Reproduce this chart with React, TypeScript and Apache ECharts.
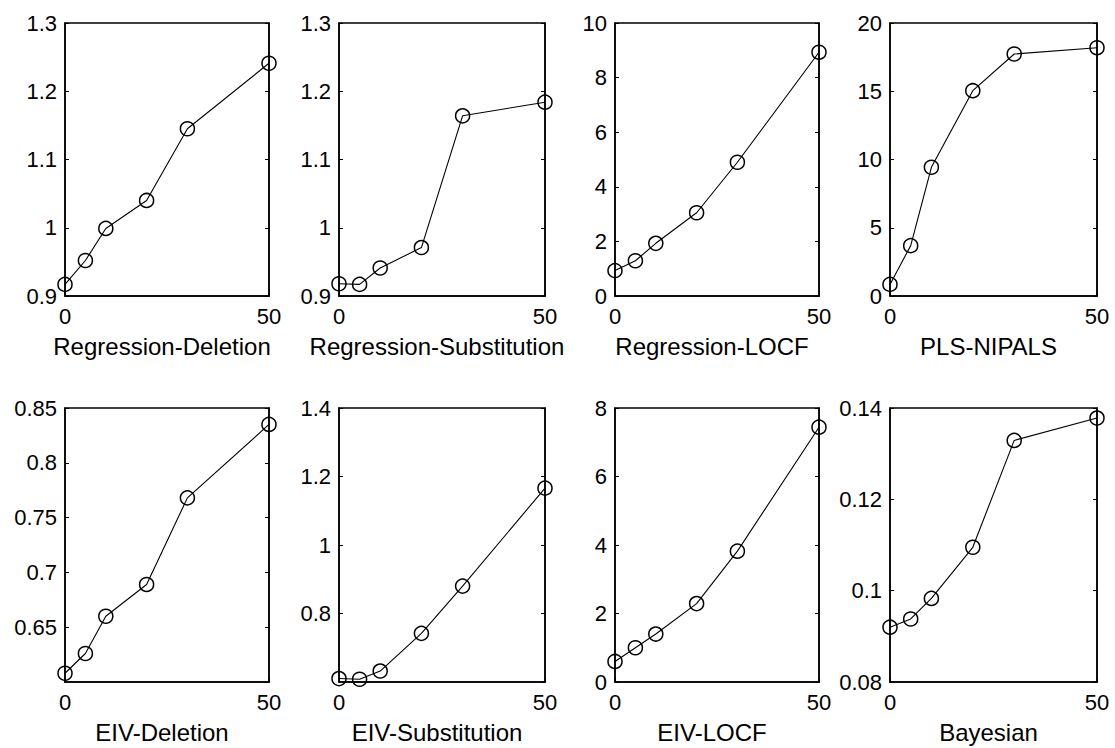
import React, { useEffect, useRef } from "react";
import * as echarts from "echarts";

const xValues = [0, 5, 10, 20, 30, 50];

const titles = [
  "Regression-Deletion",
  "Regression-Substitution",
  "Regression-LOCF",
  "PLS-NIPALS",
  "EIV-Deletion",
  "EIV-Substitution",
  "EIV-LOCF",
  "Bayesian",
];

const regressionDeletion = [0.917, 0.952, 0.999, 1.04, 1.145, 1.241];
const regressionSubstitution = [0.918, 0.917, 0.941, 0.971, 1.164, 1.184];
const regressionLOCF = [0.93, 1.29, 1.93, 3.05, 4.9, 8.93];
const plsNipals = [0.85, 3.69, 9.43, 15.04, 17.73, 18.19];
const eivDeletion = [0.608, 0.626, 0.66, 0.689, 0.768, 0.835];
const eivSubstitution = [0.61, 0.608, 0.632, 0.742, 0.88, 1.166];
const eivLOCF = [0.6, 1.0, 1.4, 2.29, 3.82, 7.44];
const bayesian = [0.092, 0.0938, 0.0983, 0.1095, 0.1329, 0.1378];

const seriesValues = [
  regressionDeletion,
  regressionSubstitution,
  regressionLOCF,
  plsNipals,
  eivDeletion,
  eivSubstitution,
  eivLOCF,
  bayesian,
];

// y axis ranges
const yMins = [0.9, 0.9, 0, 0, 0.6, 0.6, 0, 0.08];
const yMaxs = [1.3, 1.3, 10, 20, 0.85, 1.4, 8, 0.14];
const yIntervals = [0.1, 0.1, 2, 5, 0.05, 0.2, 2, 0.02];
const yShowMin = [true, true, true, true, false, false, true, true];

const xTicks = [0, 50];

const FONT = "'Liberation Sans', Arial, Helvetica, sans-serif";

export default function App() {
  const ref = useRef<HTMLDivElement>(null);

  useEffect(() => {
    if (!ref.current) return;
    const chart = echarts.init(ref.current, undefined, { renderer: "svg" });

    const colLeft = [65, 339, 615, 890];
    const colWidth = [204, 206, 204, 207];
    const rowTop = [23, 408];
    const rowHeight = [273, 274];

    const grids: any[] = [];
    const xAxes: any[] = [];
    const yAxes: any[] = [];
    const series: any[] = [];

    for (let i = 0; i < 8; i++) {
      const r = Math.floor(i / 4);
      const c = i % 4;
      grids.push({
        left: colLeft[c],
        top: rowTop[r],
        width: colWidth[c],
        height: rowHeight[r],
        show: true,
        borderColor: "#000",
        borderWidth: 1.5,
        backgroundColor: "#fff",
        containLabel: false,
      });
      xAxes.push({
        type: "value",
        gridIndex: i,
        min: xTicks[0],
        max: xTicks[1],
        interval: xTicks[1] - xTicks[0],
        name: titles[i],
        nameLocation: "middle",
        nameGap: 38,
        nameTextStyle: {
          color: "#000",
          fontSize: 24,
          fontFamily: FONT,
          padding: [0, 10, 0, 0],
        },
        axisLine: { show: true, lineStyle: { color: "#000", width: 1.5 } },
        axisTick: { show: true, inside: true, length: 4, lineStyle: { color: "#000" } },
        axisLabel: { color: "#000", fontSize: 22, fontFamily: FONT, margin: 9 },
        splitLine: { show: false },
      });
      const yCommon = {
        type: "value",
        gridIndex: i,
        min: yMins[i],
        max: yMaxs[i],
        interval: yIntervals[i],
        splitLine: { show: false },
        axisLine: { show: true, lineStyle: { color: "#000", width: 1.5 } },
        axisTick: { show: true, inside: true, length: 4, lineStyle: { color: "#000" } },
      };
      yAxes.push({
        ...yCommon,
        position: "left",
        axisLabel: {
          color: "#000",
          fontSize: 22,
          fontFamily: FONT,
          margin: 8,
          showMinLabel: yShowMin[i],
        },
      });
      yAxes.push({
        ...yCommon,
        position: "right",
        axisLabel: { show: false },
      });
      series.push({
        type: "line",
        xAxisIndex: i,
        yAxisIndex: i * 2,
        data: xValues.map((x, k) => [x, seriesValues[i][k]]),
        symbol: "circle",
        symbolSize: 14,
        showSymbol: true,
        clip: false,
        lineStyle: { color: "#000", width: 1.1 },
        itemStyle: { color: "rgba(255,255,255,0)", borderColor: "#000", borderWidth: 1.5 },
        z: 3,
      });
    }

    chart.setOption({
      animation: false,
      backgroundColor: "#fff",
      grid: grids,
      xAxis: xAxes,
      yAxis: yAxes,
      series,
    });

    return () => {
      chart.dispose();
    };
  }, []);

  return (
    <div
      ref={ref}
      style={{ position: "fixed", left: 0, top: 0, width: 1115, height: 748, background: "#fff" }}
    />
  );
}
